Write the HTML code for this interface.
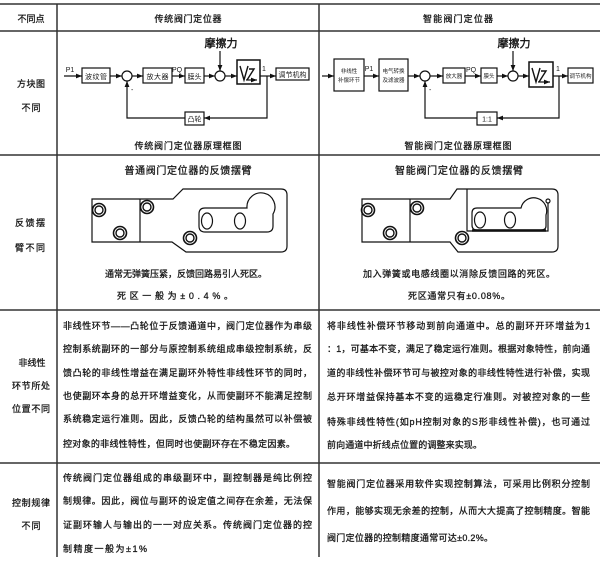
<!DOCTYPE html>
<html><head><meta charset="utf-8"><style>
html,body{margin:0;padding:0;background:#fff;}
svg{display:block;}
text{font-family:"Liberation Sans","Noto Sans CJK SC",sans-serif;fill:#1a1a1a;}
.t{font-size:9px;stroke:#1a1a1a;stroke-width:0.3;}
.h{font-size:10px;stroke:#1a1a1a;stroke-width:0.3;}
.s{font-size:7px;}
.xs{font-size:5.5px;}
.ln{stroke:#111;stroke-width:1.2;fill:none;}
.tb{stroke:#333;stroke-width:1.5;}
</style></head><body>
<svg width="600" height="568" viewBox="0 0 600 568" xmlns="http://www.w3.org/2000/svg">
<defs>
<marker id="a" viewBox="0 0 10 10" refX="10" refY="5" markerWidth="5" markerHeight="5" orient="auto"><path d="M0,1 L10,5 L0,9z" fill="#111"/></marker>
</defs>
<rect width="600" height="568" fill="#fff"/>
<!-- table lines -->
<line class="tb" x1="0" y1="4" x2="600" y2="4"/>
<line class="tb" x1="0" y1="31" x2="600" y2="31"/>
<line class="tb" x1="0" y1="155" x2="600" y2="155"/>
<line class="tb" x1="0" y1="310" x2="600" y2="310"/>
<line class="tb" x1="0" y1="463" x2="600" y2="463"/>
<line class="tb" x1="57" y1="4" x2="57" y2="557"/>
<line class="tb" x1="319" y1="4" x2="319" y2="557"/>

<!-- header -->
<text class="t" x="31" y="22" text-anchor="middle" textLength="27" lengthAdjust="spacing">不同点</text>
<text class="t" x="188" y="22" text-anchor="middle" textLength="67" lengthAdjust="spacing">传统阀门定位器</text>
<text class="t" x="458" y="22" text-anchor="middle" textLength="70" lengthAdjust="spacing">智能阀门定位器</text>

<!-- left labels -->
<text class="t" x="31" y="87" text-anchor="middle" textLength="28" lengthAdjust="spacing">方块图</text>
<text class="t" x="31" y="111" text-anchor="middle" textLength="19" lengthAdjust="spacing">不同</text>
<text class="t" x="30" y="226" text-anchor="middle" textLength="30" lengthAdjust="spacing">反馈摆</text>
<text class="t" x="30" y="251" text-anchor="middle" textLength="30" lengthAdjust="spacing">臂不同</text>
<text class="t" x="32" y="366" text-anchor="middle" textLength="27" lengthAdjust="spacing">非线性</text>
<text class="t" x="31" y="389" text-anchor="middle" textLength="38" lengthAdjust="spacing">环节所处</text>
<text class="t" x="31" y="412" text-anchor="middle" textLength="38" lengthAdjust="spacing">位置不同</text>
<text class="t" x="31" y="506" text-anchor="middle" textLength="38" lengthAdjust="spacing">控制规律</text>
<text class="t" x="31" y="529" text-anchor="middle" textLength="19" lengthAdjust="spacing">不同</text>

<!-- ===== Left block diagram ===== -->
<text x="221" y="47" text-anchor="middle" style="font-size:11px;stroke:#111;stroke-width:0.4" textLength="33" lengthAdjust="spacing">摩擦力</text>
<line class="ln" x1="220" y1="51" x2="220" y2="71" marker-end="url(#a)"/>
<text class="s" x="70" y="72" text-anchor="middle">P1</text>
<line class="ln" x1="64" y1="76" x2="82" y2="76" marker-end="url(#a)"/>
<rect class="ln" x="82" y="68" width="28" height="15"/>
<text class="s" x="96" y="79" text-anchor="middle" textLength="22" lengthAdjust="spacing">波纹管</text>
<line class="ln" x1="110" y1="76" x2="122" y2="76" marker-end="url(#a)"/>
<circle class="ln" cx="127" cy="76" r="5"/>
<line class="ln" x1="132" y1="76" x2="143" y2="76" marker-end="url(#a)"/>
<rect class="ln" x="143" y="68" width="29" height="15"/>
<text class="s" x="157.5" y="79" text-anchor="middle" textLength="22" lengthAdjust="spacing">放大器</text>
<text class="s" x="177" y="72" text-anchor="middle">PQ</text>
<line class="ln" x1="172" y1="76" x2="185" y2="76" marker-end="url(#a)"/>
<rect class="ln" x="185" y="68" width="19" height="15"/>
<text class="s" x="194.5" y="79" text-anchor="middle" textLength="14" lengthAdjust="spacing">膜头</text>
<line class="ln" x1="204" y1="76" x2="215" y2="76" marker-end="url(#a)"/>
<circle class="ln" cx="220" cy="76" r="5"/>
<line class="ln" x1="225" y1="76" x2="237" y2="76" marker-end="url(#a)"/>
<rect class="ln" x="237" y="60" width="23" height="24" style="stroke-width:1.5"/>
<path class="ln" d="M240,66 L244,80 L248,66 M249,69 L254,69 L247,80" style="stroke-width:1.4"/>
<line class="ln" x1="246" y1="80" x2="257" y2="80" marker-end="url(#a)"/>
<line class="ln" x1="260" y1="76" x2="276" y2="76" marker-end="url(#a)"/>
<text class="s" x="264" y="71" text-anchor="middle">1</text>
<rect class="ln" x="276" y="68" width="33" height="12"/>
<text class="s" x="292.5" y="77" text-anchor="middle" textLength="28" lengthAdjust="spacing">调节机构</text>
<polyline class="ln" points="267,76 267,118 204,118" marker-end="url(#a)"/>
<rect class="ln" x="185" y="112" width="19" height="13"/>
<text class="s" x="194.5" y="121.5" text-anchor="middle" textLength="14" lengthAdjust="spacing">凸轮</text>
<polyline class="ln" points="185,118 127,118 127,81" marker-end="url(#a)"/>
<text class="s" x="131" y="92">-</text>
<text class="t" x="188" y="149" text-anchor="middle" textLength="107" lengthAdjust="spacing">传统阀门定位器原理框图</text>

<!-- ===== Right block diagram ===== -->
<text x="514" y="47" text-anchor="middle" style="font-size:11px;stroke:#111;stroke-width:0.4" textLength="33" lengthAdjust="spacing">摩擦力</text>
<line class="ln" x1="513" y1="51" x2="513" y2="71" marker-end="url(#a)"/>
<line class="ln" x1="322" y1="76" x2="334" y2="76" marker-end="url(#a)"/>
<rect class="ln" x="334" y="59" width="30" height="32"/>
<text class="xs" x="349" y="73" text-anchor="middle">非线性</text>
<text class="xs" x="349" y="82" text-anchor="middle">补偿环节</text>
<text class="s" x="369" y="71" text-anchor="middle">P1</text>
<line class="ln" x1="364" y1="76" x2="379" y2="76" marker-end="url(#a)"/>
<rect class="ln" x="379" y="59" width="29" height="32"/>
<text class="xs" x="393.5" y="73" text-anchor="middle">电气转换</text>
<text class="xs" x="393.5" y="82" text-anchor="middle">及滤波器</text>
<line class="ln" x1="408" y1="76" x2="420" y2="76" marker-end="url(#a)"/>
<circle class="ln" cx="425" cy="76" r="5"/>
<line class="ln" x1="430" y1="76" x2="443" y2="76" marker-end="url(#a)"/>
<rect class="ln" x="443" y="68" width="22" height="15"/>
<text class="xs" x="454" y="78" text-anchor="middle">放大器</text>
<text class="s" x="471" y="72" text-anchor="middle">PQ</text>
<line class="ln" x1="465" y1="76" x2="481" y2="76" marker-end="url(#a)"/>
<rect class="ln" x="481" y="68" width="16" height="15"/>
<text class="xs" x="489" y="78" text-anchor="middle">膜头</text>
<line class="ln" x1="497" y1="76" x2="508" y2="76" marker-end="url(#a)"/>
<circle class="ln" cx="513" cy="76" r="5"/>
<line class="ln" x1="518" y1="76" x2="529" y2="76" marker-end="url(#a)"/>
<rect class="ln" x="529" y="62" width="24" height="25" style="stroke-width:1.5"/>
<path class="ln" d="M532,68 L536,82 L540,68 M541,71 L546,71 L539,82" style="stroke-width:1.4"/>
<line class="ln" x1="538" y1="82" x2="550" y2="82" marker-end="url(#a)"/>
<line class="ln" x1="553" y1="76" x2="568" y2="76" marker-end="url(#a)"/>
<text class="s" x="558" y="71" text-anchor="middle">1</text>
<rect class="ln" x="568" y="68" width="25" height="15"/>
<text class="xs" x="580.5" y="78" text-anchor="middle">调节机构</text>
<polyline class="ln" points="559,76 559,118 497,118" marker-end="url(#a)"/>
<rect class="ln" x="477" y="112" width="20" height="13"/>
<text class="s" x="487" y="121.5" text-anchor="middle">1:1</text>
<polyline class="ln" points="477,118 425,118 425,81" marker-end="url(#a)"/>
<text class="s" x="429" y="92">-</text>
<text class="t" x="458" y="149" text-anchor="middle" textLength="107" lengthAdjust="spacing">智能阀门定位器原理框图</text>

<!-- ===== Left feedback arm ===== -->
<text class="h" x="188" y="174" text-anchor="middle" textLength="127" lengthAdjust="spacing">普通阀门定位器的反馈摆臂</text>
<path class="ln" d="M92,199 L173,199 L183,189 L281,189 Q287,189 287,195 L287,246 Q287,252 281,252 L186,252 L172,242 L92,242 Z"/>
<line class="ln" x1="140" y1="199" x2="140" y2="242"/>
<path class="ln" d="M205,208 L247,208 A14,14 0 1,1 273,214 L273,226 Q273,232 267,232 L205,232 Q199,232 199,226 L199,214 Q199,208 205,208 Z"/>
<ellipse class="ln" cx="207" cy="221" rx="5.5" ry="8"/>
<ellipse class="ln" cx="240" cy="221" rx="5.5" ry="8"/>
<g class="ln">
<circle cx="99" cy="210" r="6.5" style="stroke-width:1.6"/><circle cx="99" cy="210" r="4" style="stroke-width:1.4"/>
<circle cx="120" cy="233" r="6.5" style="stroke-width:1.6"/><circle cx="120" cy="233" r="4" style="stroke-width:1.4"/>
<circle cx="147" cy="207" r="6.5" style="stroke-width:1.6"/><circle cx="147" cy="207" r="4" style="stroke-width:1.4"/>
<circle cx="190" cy="238" r="6.5" style="stroke-width:1.6"/><circle cx="190" cy="238" r="4" style="stroke-width:1.4"/>
</g>
<text class="t" x="105" y="277" textLength="162" lengthAdjust="spacing">通常无弹簧压紧，反馈回路易引人死区。</text>
<text class="t" x="117" y="299" textLength="116" lengthAdjust="spacing">死区一般为±0.4%。</text>

<!-- ===== Right feedback arm ===== -->
<text class="h" x="459" y="174" text-anchor="middle" textLength="128" lengthAdjust="spacing">智能阀门定位器的反馈摆臂</text>
<path class="ln" d="M362,199 L450,199 L457,189 L552,189 Q558,189 558,195 L558,246 Q558,252 552,252 L458,252 L450,242 L362,242 Z"/>
<line class="ln" x1="410" y1="199" x2="410" y2="242"/>
<polyline class="ln" points="467,189 467,231 548,231 548,203"/>
<line x1="472" y1="230.5" x2="546" y2="230.5" stroke="#111" stroke-width="2.5"/>
<circle class="ln" cx="548" cy="201" r="2"/>
<path class="ln" d="M477,208 L521,208 A13,13 0 1,1 546,215 L546,226 Q546,230 541,230 L477,230 Q472,230 472,225 L472,213 Q472,208 477,208 Z"/>
<ellipse class="ln" cx="480" cy="220" rx="5.5" ry="8"/>
<ellipse class="ln" cx="510" cy="220" rx="5.5" ry="8"/>
<g class="ln">
<circle cx="368" cy="210" r="6.5" style="stroke-width:1.6"/><circle cx="368" cy="210" r="4" style="stroke-width:1.4"/>
<circle cx="390" cy="233" r="6.5" style="stroke-width:1.6"/><circle cx="390" cy="233" r="4" style="stroke-width:1.4"/>
<circle cx="417" cy="208" r="6.5" style="stroke-width:1.6"/><circle cx="417" cy="208" r="4" style="stroke-width:1.4"/>
<circle cx="462" cy="238" r="6.5" style="stroke-width:1.6"/><circle cx="462" cy="238" r="4" style="stroke-width:1.4"/>
</g>
<text class="t" x="363" y="277" textLength="192" lengthAdjust="spacing">加入弹簧或电感线圈以消除反馈回路的死区。</text>
<text class="t" x="408" y="299" textLength="102" lengthAdjust="spacing">死区通常只有±0.08%。</text>

<!-- ===== Row 3 ===== -->
<text class="t" x="63" y="329" textLength="249" lengthAdjust="spacing">非线性环节——凸轮位于反馈通道中，阀门定位器作为串级</text>
<text class="t" x="63" y="352" textLength="249" lengthAdjust="spacing">控制系统副环的一部分与原控制系统组成串级控制系统，反</text>
<text class="t" x="63" y="376" textLength="249" lengthAdjust="spacing">馈凸轮的非线性增益在满足副环外特性非线性环节的同时，</text>
<text class="t" x="63" y="399" textLength="249" lengthAdjust="spacing">也使副环本身的总开环增益变化，从而使副环不能满足控制</text>
<text class="t" x="63" y="422" textLength="249" lengthAdjust="spacing">系统稳定运行准则。因此，反馈凸轮的结构虽然可以补偿被</text>
<text class="t" x="63" y="447" textLength="232" lengthAdjust="spacing">控对象的非线性特性，但同时也使副环存在不稳定因素。</text>

<text class="t" x="327" y="329" textLength="263" lengthAdjust="spacing">将非线性补偿环节移动到前向通道中。总的副环开环增益为1</text>
<text class="t" x="327" y="352" textLength="263" lengthAdjust="spacing">：1，可基本不变，满足了稳定运行准则。根据对象特性，前向通</text>
<text class="t" x="327" y="376" textLength="263" lengthAdjust="spacing">道的非线性补偿环节可与被控对象的非线性特性进行补偿，实现</text>
<text class="t" x="327" y="400" textLength="263" lengthAdjust="spacing">总开环增益保持基本不变的运稳定行准则。对被控对象的一些</text>
<text class="t" x="327" y="425" textLength="263" lengthAdjust="spacing">特殊非线性特性(如pH控制对象的S形非线性补偿)，也可通过</text>
<text class="t" x="327" y="448" textLength="155" lengthAdjust="spacing">前向通道中折线点位置的调整来实现。</text>

<!-- ===== Row 4 ===== -->
<text class="t" x="63" y="481" textLength="249" lengthAdjust="spacing">传统阀门定位器组成的串级副环中，副控制器是纯比例控</text>
<text class="t" x="63" y="504" textLength="249" lengthAdjust="spacing">制规律。因此，阀位与副环的设定值之间存在余差，无法保</text>
<text class="t" x="63" y="528" textLength="249" lengthAdjust="spacing">证副环输人与输出的一一对应关系。传统阀门定位器的控</text>
<text class="t" x="63" y="552" textLength="84" lengthAdjust="spacing">制精度一般为±1%</text>

<text class="t" x="327" y="487" textLength="263" lengthAdjust="spacing">智能阀门定位器采用软件实现控制算法，可采用比例积分控制</text>
<text class="t" x="327" y="514" textLength="263" lengthAdjust="spacing">作用，能够实现无余差的控制，从而大大提高了控制精度。智能</text>
<text class="t" x="327" y="541" textLength="166" lengthAdjust="spacing">阀门定位器的控制精度通常可达±0.2%。</text>
</svg>
</body></html>
